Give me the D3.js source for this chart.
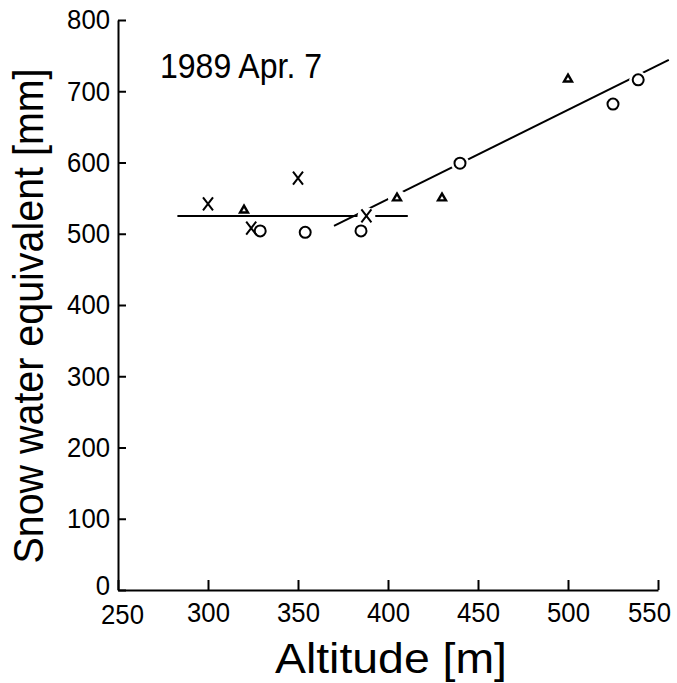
<!DOCTYPE html>
<html>
<head>
<meta charset="utf-8">
<script src="https://cdn.jsdelivr.net/npm/d3@7"></script>
<style>
  body { margin: 0; background: #fff; }
  text { font-family: "Liberation Sans", "DejaVu Sans", sans-serif; fill: #000; }
</style>
</head>
<body>
<svg id="chart" width="677" height="683"></svg>
<script>
// Axis ticks
const xTicks = [250, 300, 350, 400, 450, 500, 550];
const yTicks = [0, 100, 200, 300, 400, 500, 600, 700, 800];

// Observations: altitude [m] and snow water equivalent [mm], by marker type
const crossAlt = [300, 324, 350, 388];
const crossSwe = [542, 508, 578, 525];
const circleAlt = [329, 354, 385, 440, 525, 539];
const circleSwe = [504, 502, 504, 599, 682, 716];
const triAlt = [320, 405, 430, 500];
const triSwe = [533, 550, 550, 717];

// Fitted lines: constant part below ~400 m, linear increase above
const flatAlt = [283, 411];
const flatSwe = [525, 525];
const slopeAlt = [370, 556];
const slopeSwe = [511, 744];

const svg = d3.select("#chart");
const x = d3.scaleLinear().domain([250, 550]).range([118, 658]);
const y = d3.scaleLinear().domain([0, 800]).range([590, 20]);

// Axes with inward ticks
const xAxis = svg.append("g").attr("transform", `translate(0,${y(0)})`)
  .call(d3.axisBottom(x).tickValues(xTicks).tickSizeInner(-10).tickSizeOuter(0).tickPadding(12));
const yAxis = svg.append("g").attr("transform", `translate(${x(250)},0)`)
  .call(d3.axisLeft(y).tickValues(yTicks).tickSizeInner(-8).tickSizeOuter(0).tickPadding(8));

[xAxis, yAxis].forEach(g => {
  g.selectAll("path.domain, line").attr("stroke", "#000").attr("stroke-width", 2);
  g.selectAll("text").attr("font-size", 28).attr("fill", "#000")
    .attr("textLength", d => String(d).length * 14.3).attr("lengthAdjust", "spacingAndGlyphs");
});
xAxis.selectAll("text").filter(d => d === 250).attr("x", 4).attr("y", 14);
xAxis.selectAll("text").filter(d => d === 550).attr("x", -9);
yAxis.selectAll("text").filter(d => d === 0).attr("y", -4);

// Fitted lines, broken where they pass through markers
const defs = svg.append("defs");
function makeMask(id, alts, swes) {
  const m = defs.append("mask").attr("id", id).attr("maskUnits", "userSpaceOnUse");
  m.append("rect").attr("width", 677).attr("height", 683).attr("fill", "#fff");
  m.selectAll("circle").data(d3.zip(alts, swes)).join("circle")
    .attr("cx", d => x(d[0])).attr("cy", d => y(d[1])).attr("r", 9).attr("fill", "#000");
}
makeMask("cut-flat", crossAlt, crossSwe);
makeMask("cut-slope", [...crossAlt, ...circleAlt, ...triAlt], [...crossSwe, ...circleSwe, ...triSwe]);

const line = d3.line().x(d => x(d[0])).y(d => y(d[1]));
svg.append("path").datum(d3.zip(flatAlt, flatSwe)).attr("d", line)
  .attr("stroke", "#000").attr("stroke-width", 2).attr("fill", "none").attr("mask", "url(#cut-flat)");
svg.append("path").datum(d3.zip(slopeAlt, slopeSwe)).attr("d", line)
  .attr("stroke", "#000").attr("stroke-width", 2).attr("fill", "none").attr("mask", "url(#cut-slope)");

// Markers
svg.append("g").selectAll("circle").data(d3.zip(circleAlt, circleSwe)).join("circle")
  .attr("cx", d => x(d[0])).attr("cy", d => y(d[1])).attr("r", 5.5)
  .attr("fill", "none").attr("stroke", "#000").attr("stroke-width", 2);

svg.append("g").selectAll("path").data(d3.zip(crossAlt, crossSwe)).join("path")
  .attr("d", d => {
    const cx = x(d[0]), cy = y(d[1]);
    return `M${cx - 5},${cy - 6.5}L${cx + 5},${cy + 6.5}M${cx + 5},${cy - 6.5}L${cx - 5},${cy + 6.5}`;
  })
  .attr("fill", "none").attr("stroke", "#000").attr("stroke-width", 2);

const tri = d3.symbol().type(d3.symbolTriangle2).size(45);
svg.append("g").selectAll("path").data(d3.zip(triAlt, triSwe)).join("path")
  .attr("transform", d => `translate(${x(d[0])},${y(d[1])})`)
  .attr("d", tri).attr("fill", "none").attr("stroke", "#000").attr("stroke-width", 2.4);

// Titles
svg.append("text").attr("x", 160).attr("y", 78).attr("font-size", 35)
  .attr("textLength", 162).attr("lengthAdjust", "spacingAndGlyphs").text("1989 Apr. 7");

svg.append("text").attr("x", 391).attr("y", 673).attr("text-anchor", "middle")
  .attr("font-size", 42).attr("textLength", 232).attr("lengthAdjust", "spacingAndGlyphs")
  .text("Altitude [m]");

svg.append("text").attr("transform", "translate(43,316) rotate(-90)").attr("text-anchor", "middle")
  .attr("font-size", 43).attr("textLength", 495).attr("lengthAdjust", "spacingAndGlyphs")
  .text("Snow water equivalent [mm]");
</script>
</body>
</html>
